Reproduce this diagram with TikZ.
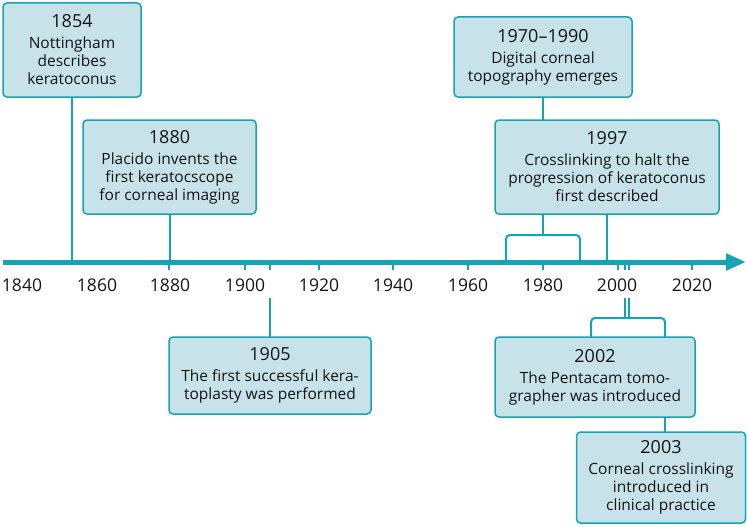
\documentclass[tikz,border=0pt]{standalone}
\usepackage{fontspec}
\setmainfont{Open Sans}
\usetikzlibrary{arrows.meta}
\definecolor{tealc}{HTML}{14A4B5}
\definecolor{boxfill}{HTML}{C7E2E8}
\newcommand\yrline[1]{{\fontsize{18}{18}\selectfont #1}\\[3pt]}
\begin{document}
\begin{tikzpicture}[x=1pt,y=-1pt,
 evbox/.style={draw=tealc, line width=1.5pt, fill=boxfill, rounded corners=4pt, align=center, inner sep=0pt, font=\fontsize{15.5}{18}\selectfont, text=black!92},
 conn/.style={draw=tealc, line width=2pt},
 tickmark/.style={draw=tealc, line width=2pt},
 ticklab/.style={font=\fontsize{17.5}{20}\selectfont, text=black!92, inner sep=0pt},
 axisline/.style={draw=tealc, line width=5pt, -{Triangle[length=20pt,width=16pt]}}]
\useasboundingbox (0,0) rectangle (747,527);
% axis
\coordinate (axL) at (3,262);
\coordinate (axR) at (746,262);
% named coordinates
\coordinate (y1970) at (506,262);
\coordinate (y1990) at (580,262);
\coordinate (brT) at (543,235);
\coordinate (c1905) at (270,298);
\coordinate (c2002a) at (625,298);
\coordinate (c2002b) at (629,298);
\coordinate (brB) at (627,318);
\coordinate (legL) at (591,318);
\coordinate (legR) at (665,318);
\coordinate (top1854) at (72,90);
\coordinate (top1880) at (169.5,200);
\coordinate (top1970) at (543,90);
\coordinate (top1997) at (607,200);
\coordinate (bot1905) at (270,350);
\coordinate (bot2002) at (665,350);
\coordinate (bot2003) at (665,440);
% connectors (drawn first, boxes cover their ends)
\draw[conn] (top1854) -- (top1854 |- axL);
\draw[conn] (top1880) -- (top1880 |- axL);
\draw[conn] (top1970) -- (brT);
\draw[conn, rounded corners=4pt] (y1970) -- (y1970 |- brT) -- (y1990 |- brT) -- (y1990);
\draw[conn] (top1997) -- (top1997 |- axL);
\draw[conn] (c1905) -- (bot1905);
\draw[conn] (c2002a) -- (c2002a |- brB);
\draw[conn] (c2002b) -- (c2002b |- brB);
\draw[conn, rounded corners=4pt] (legL |- bot1905) -- (legL) -- (legR) -- (bot2002);
\draw[conn] (bot2002) -- (bot2003);
% axis
\draw[axisline] (axL) -- (axR);
% ticks
\foreach \x in {169,245,270,319,393,468,543,618,625,629,692}
  \draw[tickmark] (\x,262) -- (\x,270);
% tick labels
\foreach \x/\t in {22/1840,97/1860,170/1880,245/1900,319/1920,393/1940,468/1960,543/1980,617/2000,692/2020}
  \node[ticklab] (lab\t) at (\x,285) {\t};
% boxes
\node[evbox, minimum width=138pt, minimum height=94pt] (b1854) at (72,50)
  {\yrline{1854}Nottingham\\describes\\keratoconus};
\node[evbox, minimum width=173pt, minimum height=94pt] (b1880) at (169.5,167)
  {\yrline{1880}Placido invents the\\first keratocscope\\for corneal imaging};
\node[evbox, minimum width=178pt, minimum height=80pt] (b1970) at (543,57)
  {\yrline{1970--1990}Digital corneal\\topography emerges};
\node[evbox, minimum width=224pt, minimum height=94pt] (b1997) at (607,167)
  {\yrline{1997}Crosslinking to halt the\\progression of keratoconus\\first described};
\node[evbox, minimum width=202pt, minimum height=77pt] (b1905) at (270,375.5)
  {\yrline{1905}The first successful kera-\\toplasty was performed};
\node[evbox, minimum width=200pt, minimum height=80pt] (b2002) at (595,377)
  {\yrline{2002}The Pentacam tomo-\\grapher was introduced};
\node[evbox, minimum width=169pt, minimum height=91pt] (b2003) at (661,477.5)
  {\yrline{2003}Corneal crosslinking\\introduced in\\clinical practice};
\end{tikzpicture}
\end{document}
